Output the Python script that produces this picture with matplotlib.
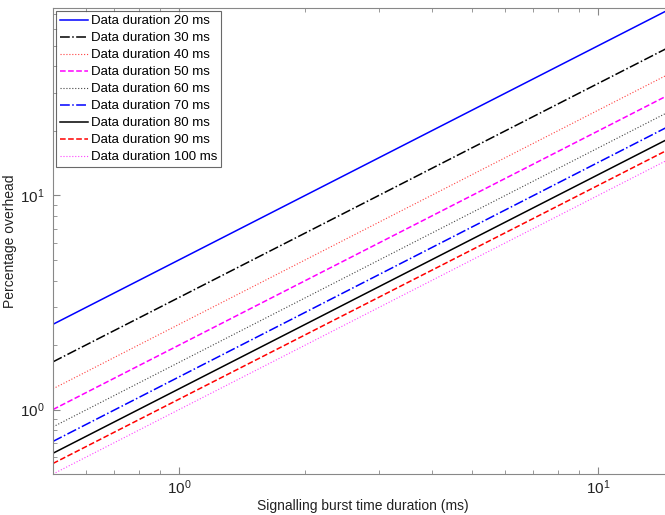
import matplotlib
matplotlib.use("Agg")
import matplotlib.pyplot as plt

plt.rcParams['font.family'] = ['Liberation Sans', 'DejaVu Sans']
plt.rcParams['mathtext.fontset'] = 'custom'
plt.rcParams['mathtext.rm'] = 'Liberation Sans'
plt.rcParams['mathtext.it'] = 'Liberation Sans:italic'
plt.rcParams['mathtext.bf'] = 'Liberation Sans:bold'

# burst duration endpoints (ms)
burst = [0.5, 15.0]

durations = [20, 30, 40, 50, 60, 70, 80, 90, 100]

# overhead (%) read at left and right ends of each line
overhead_start = [2.5, 1.67, 1.25, 1.0, 0.83, 0.71, 0.625, 0.56, 0.5]
overhead_end = [75.0, 50.0, 37.5, 30.0, 25.0, 21.4, 18.75, 16.7, 15.0]

styles = [
    ("#0000ff", "-", 1.1),
    ("#000000", "-.", 1.1),
    ("#ff4040", ":", 0.8),
    ("#ff00ff", "--", 1.1),
    ("#444444", ":", 0.8),
    ("#0000ff", "-.", 1.1),
    ("#000000", "-", 1.1),
    ("#ff0000", "--", 1.1),
    ("#ff40ff", ":", 0.8),
]

fig = plt.figure(figsize=(6.65, 5.15), dpi=100)
ax = fig.add_axes([0.0797, 0.0796, 0.931, 0.905])

for d, y0, y1, (c, ls, lw) in zip(durations, overhead_start, overhead_end, styles):
  ax.plot(burst, [y0, y1], color=c, linestyle=ls, linewidth=lw,
          label="Data duration %d ms" % d)

ax.set_xscale("log")
ax.set_yscale("log")
ax.set_xlim(0.5, 15)
ax.set_ylim(0.5, 75)

for s in ax.spines.values():
  s.set_color("#888888")

ax.tick_params(which="both", direction="in", top=True, right=True,
               colors="#888888", labelcolor="#222222", labelsize=11)
ax.tick_params(which="major", length=5)
ax.tick_params(which="minor", length=3)
ax.tick_params(axis="y", which="major", pad=6)

ax.set_xlabel("Signalling burst time duration (ms)", fontsize=10,
              color="#222222", labelpad=1)
ax.set_ylabel("Percentage overhead", fontsize=10, color="#222222")
ax.yaxis.set_label_coords(-0.058, 0.5)

leg = ax.legend(loc="upper left", fontsize=9.5, frameon=True, fancybox=False,
                borderaxespad=0.25, handlelength=2.1, labelspacing=0.36,
                handletextpad=0.2, borderpad=0.3)
leg.get_frame().set_edgecolor("#444444")
leg.get_frame().set_linewidth(0.8)

plt.savefig("out.png", dpi=100)
